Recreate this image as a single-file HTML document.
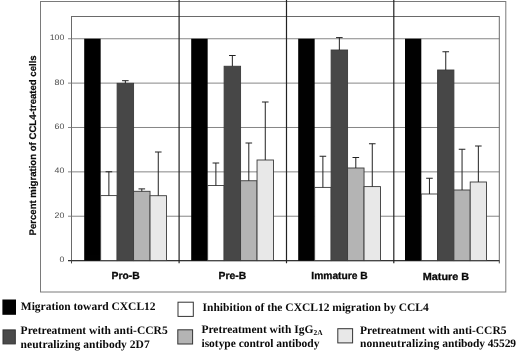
<!DOCTYPE html>
<html><head><meta charset="utf-8"><title>Figure</title>
<style>
html,body{margin:0;padding:0;background:#fff}
text{text-rendering:geometricPrecision}
svg{display:block;will-change:transform;opacity:0.999}
.ax{font-family:"Liberation Sans",Arial,sans-serif}
.lg{font-family:"Liberation Serif","Times New Roman",serif;font-weight:bold;font-size:11.5px;fill:#0a0a0a}
</style></head><body>
<svg width="520" height="351" viewBox="0 0 520 351">
<rect width="520" height="351" fill="#fff"/>
<rect x="40.5" y="1.5" width="465.3" height="290.5" fill="none" stroke="#7a7a7a" stroke-width="1"/>
<rect x="71.5" y="16.5" width="427.8" height="244.10" fill="none" stroke="#6a6a6a" stroke-width="1"/>
<line x1="68" x2="499.3" y1="216.23" y2="216.23" stroke="#707070" stroke-width="0.85"/>
<line x1="68" x2="499.3" y1="171.86" y2="171.86" stroke="#707070" stroke-width="0.85"/>
<line x1="68" x2="499.3" y1="127.49" y2="127.49" stroke="#707070" stroke-width="0.85"/>
<line x1="68" x2="499.3" y1="83.12" y2="83.12" stroke="#707070" stroke-width="0.85"/>
<line x1="68" x2="499.3" y1="38.75" y2="38.75" stroke="#707070" stroke-width="0.85"/>
<line x1="68" x2="499.3" y1="260.60" y2="260.60" stroke="#333" stroke-width="1.1"/>
<text class="ax" x="64.3" y="262.00" font-size="8" text-anchor="end" textLength="4.9" lengthAdjust="spacingAndGlyphs" fill="#4a4a4a">0</text>
<text class="ax" x="64.3" y="217.63" font-size="8" text-anchor="end" textLength="9.8" lengthAdjust="spacingAndGlyphs" fill="#4a4a4a">20</text>
<text class="ax" x="64.3" y="173.26" font-size="8" text-anchor="end" textLength="9.8" lengthAdjust="spacingAndGlyphs" fill="#4a4a4a">40</text>
<text class="ax" x="64.3" y="128.89" font-size="8" text-anchor="end" textLength="9.8" lengthAdjust="spacingAndGlyphs" fill="#4a4a4a">60</text>
<text class="ax" x="64.3" y="84.52" font-size="8" text-anchor="end" textLength="9.8" lengthAdjust="spacingAndGlyphs" fill="#4a4a4a">80</text>
<text class="ax" x="64.3" y="40.15" font-size="8" text-anchor="end" textLength="14.6" lengthAdjust="spacingAndGlyphs" fill="#4a4a4a">100</text>
<rect x="84.20" y="38.75" width="16.46" height="221.85" fill="#000"/>
<rect x="100.66" y="195.60" width="16.46" height="65.00" fill="#ffffff" stroke="#3a3a3a" stroke-width="0.9"/>
<path d="M108.89 195.60V171.75M105.59 171.75H112.19" stroke="#222" stroke-width="1" fill="none"/>
<rect x="117.12" y="83.30" width="16.46" height="177.30" fill="#474747" stroke="#3a3a3a" stroke-width="0.9"/>
<path d="M125.35 83.30V80.70M122.05 80.70H128.65" stroke="#222" stroke-width="1" fill="none"/>
<rect x="133.58" y="191.30" width="16.46" height="69.30" fill="#b4b4b4" stroke="#3a3a3a" stroke-width="0.9"/>
<path d="M141.81 191.30V188.90M138.51 188.90H145.11" stroke="#222" stroke-width="1" fill="none"/>
<rect x="150.04" y="195.70" width="16.46" height="64.90" fill="#e8e8e8" stroke="#3a3a3a" stroke-width="0.9"/>
<path d="M158.27 195.70V152.00M154.97 152.00H161.57" stroke="#222" stroke-width="1" fill="none"/>
<rect x="191.20" y="38.75" width="16.46" height="221.85" fill="#000"/>
<rect x="207.66" y="185.50" width="16.46" height="75.10" fill="#ffffff" stroke="#3a3a3a" stroke-width="0.9"/>
<path d="M215.89 185.50V163.00M212.59 163.00H219.19" stroke="#222" stroke-width="1" fill="none"/>
<rect x="224.12" y="66.25" width="16.46" height="194.35" fill="#474747" stroke="#3a3a3a" stroke-width="0.9"/>
<path d="M232.35 66.25V55.50M229.05 55.50H235.65" stroke="#222" stroke-width="1" fill="none"/>
<rect x="240.58" y="180.75" width="16.46" height="79.85" fill="#b4b4b4" stroke="#3a3a3a" stroke-width="0.9"/>
<path d="M248.81 180.75V143.00M245.51 143.00H252.11" stroke="#222" stroke-width="1" fill="none"/>
<rect x="257.04" y="160.00" width="16.46" height="100.60" fill="#e8e8e8" stroke="#3a3a3a" stroke-width="0.9"/>
<path d="M265.27 160.00V102.00M261.97 102.00H268.57" stroke="#222" stroke-width="1" fill="none"/>
<rect x="298.20" y="38.75" width="16.46" height="221.85" fill="#000"/>
<rect x="314.66" y="187.40" width="16.46" height="73.20" fill="#ffffff" stroke="#3a3a3a" stroke-width="0.9"/>
<path d="M322.89 187.40V156.25M319.59 156.25H326.19" stroke="#222" stroke-width="1" fill="none"/>
<rect x="331.12" y="50.00" width="16.46" height="210.60" fill="#474747" stroke="#3a3a3a" stroke-width="0.9"/>
<path d="M339.35 50.00V37.60M336.05 37.60H342.65" stroke="#222" stroke-width="1" fill="none"/>
<rect x="347.58" y="168.00" width="16.46" height="92.60" fill="#b4b4b4" stroke="#3a3a3a" stroke-width="0.9"/>
<path d="M355.81 168.00V157.50M352.51 157.50H359.11" stroke="#222" stroke-width="1" fill="none"/>
<rect x="364.04" y="186.60" width="16.46" height="74.00" fill="#e8e8e8" stroke="#3a3a3a" stroke-width="0.9"/>
<path d="M372.27 186.60V143.75M368.97 143.75H375.57" stroke="#222" stroke-width="1" fill="none"/>
<rect x="405.00" y="38.75" width="16.30" height="221.85" fill="#000"/>
<rect x="421.30" y="194.00" width="16.30" height="66.60" fill="#ffffff" stroke="#3a3a3a" stroke-width="0.9"/>
<path d="M429.45 194.00V178.25M426.15 178.25H432.75" stroke="#222" stroke-width="1" fill="none"/>
<rect x="437.60" y="70.00" width="16.30" height="190.60" fill="#474747" stroke="#3a3a3a" stroke-width="0.9"/>
<path d="M445.75 70.00V51.75M442.45 51.75H449.05" stroke="#222" stroke-width="1" fill="none"/>
<rect x="453.90" y="190.00" width="16.30" height="70.60" fill="#b4b4b4" stroke="#3a3a3a" stroke-width="0.9"/>
<path d="M462.05 190.00V149.25M458.75 149.25H465.35" stroke="#222" stroke-width="1" fill="none"/>
<rect x="470.20" y="182.00" width="16.30" height="78.60" fill="#e8e8e8" stroke="#3a3a3a" stroke-width="0.9"/>
<path d="M478.35 182.00V146.00M475.05 146.00H481.65" stroke="#222" stroke-width="1" fill="none"/>
<line x1="179.1" x2="179.1" y1="0" y2="263.2" stroke="#222" stroke-width="1.2"/>
<line x1="286.5" x2="286.5" y1="0" y2="263.2" stroke="#222" stroke-width="1.2"/>
<line x1="393.8" x2="393.8" y1="0" y2="263.2" stroke="#222" stroke-width="1.2"/>
<path d="M71.5 260.60V263.4M499.3 260.60V263.4" stroke="#444" stroke-width="1" fill="none"/>
<text class="ax" x="125.7" y="279.2" font-size="10.2" font-weight="bold" text-anchor="middle" textLength="28.2" lengthAdjust="spacingAndGlyphs" fill="#0a0a0a" stroke="#0a0a0a" stroke-width="0.3">Pro-B</text>
<text class="ax" x="232.4" y="279.3" font-size="10.2" font-weight="bold" text-anchor="middle" textLength="27.6" lengthAdjust="spacingAndGlyphs" fill="#0a0a0a" stroke="#0a0a0a" stroke-width="0.3">Pre-B</text>
<text class="ax" x="339.5" y="279.4" font-size="10.2" font-weight="bold" text-anchor="middle" textLength="56.4" lengthAdjust="spacingAndGlyphs" fill="#0a0a0a" stroke="#0a0a0a" stroke-width="0.3">Immature B</text>
<text class="ax" x="445.9" y="279.6" font-size="10.2" font-weight="bold" text-anchor="middle" textLength="46.3" lengthAdjust="spacingAndGlyphs" fill="#0a0a0a" stroke="#0a0a0a" stroke-width="0.3">Mature B</text>
<text class="ax" transform="translate(36,235.5) rotate(-90)" font-size="9.6" font-weight="bold" fill="#0a0a0a" stroke="#0a0a0a" stroke-width="0.2">Percent migration of CCL4-treated cells</text>
<rect x="2.40" y="299.50" width="13.60" height="15.30" fill="#000"/>
<rect x="3.00" y="329.90" width="12.30" height="14.00" fill="#4a4a4a" stroke="#333" stroke-width="1"/>
<rect x="178.00" y="302.20" width="15.30" height="14.20" fill="#fff" stroke="#333" stroke-width="1"/>
<rect x="177.80" y="329.80" width="14.80" height="14.20" fill="#b4b4b4" stroke="#333" stroke-width="1"/>
<rect x="337.80" y="328.70" width="14.80" height="14.20" fill="#e8e8e8" stroke="#333" stroke-width="1"/>
<text class="lg" x="20.8" y="310.3">Migration toward CXCL12</text>
<text class="lg" x="202.6" y="311.0">Inhibition of the CXCL12 migration by CCL4</text>
<text class="lg" x="20.6" y="334.2" letter-spacing="0.022">Pretreatment with anti-CCR5</text>
<text class="lg" x="20.6" y="347.8" letter-spacing="0.025">neutralizing antibody 2D7</text>
<text class="lg" x="201.4" y="333.4">Pretreatment with IgG<tspan font-size="7.5" dy="2">2A</tspan></text>
<text class="lg" x="201.5" y="347.1" letter-spacing="-0.03">isotype control antibody</text>
<text class="lg" x="360" y="333.5">Pretreatment with anti-CCR5</text>
<text class="lg" x="360" y="347.1"><tspan letter-spacing="0.09">nonneutralizing </tspan><tspan letter-spacing="-0.1">antibody 45529</tspan></text>
</svg></body></html>
